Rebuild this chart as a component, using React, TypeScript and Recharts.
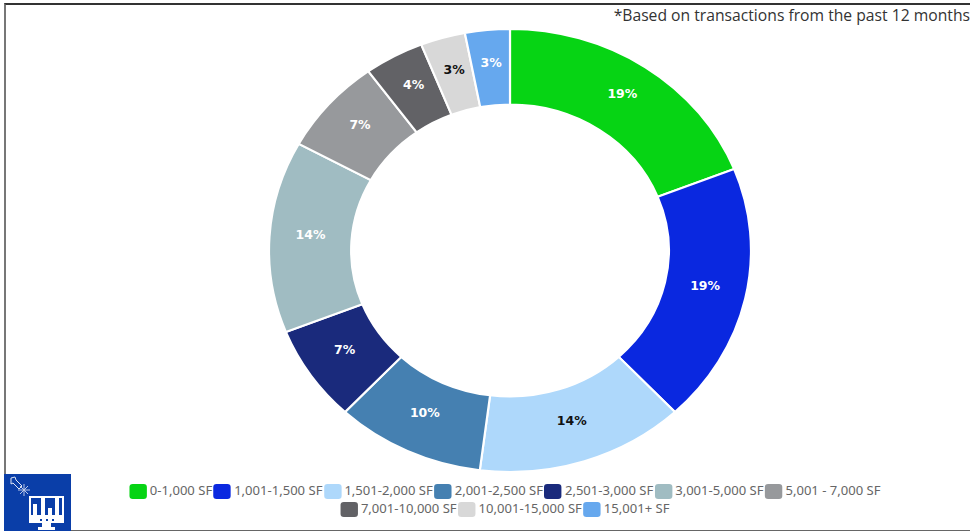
import { PieChart, Pie, Cell, Legend } from 'recharts'

const SIZE_BANDS = [
  '0-1,000 SF', '1,001-1,500 SF', '1,501-2,000 SF', '2,001-2,500 SF', '2,501-3,000 SF',
  '3,001-5,000 SF', '5,001 - 7,000 SF', '7,001-10,000 SF', '10,001-15,000 SF', '15,001+ SF',
]
const SHARES = [19, 19, 14, 10, 7, 14, 7, 4, 3, 3]
const COLORS = [
  '#06d414', '#0a28e0', '#aed8fb', '#4580b1', '#1a2a7c',
  '#a0bcc2', '#97999c', '#626266', '#d8d8d8', '#66a8ee',
]
const LABEL_COLORS = ['#fff', '#fff', '#111', '#fff', '#fff', '#fff', '#fff', '#fff', '#111', '#fff']

const data = SIZE_BANDS.map((name, i) => ({ name, value: SHARES[i] }))

// the whole plot is stretched sideways, so the ring comes out as an ellipse
const STRETCH = 1.088
const RAD = Math.PI / 180

function SliceLabel(props: any) {
  const { cx, cy, midAngle, innerRadius, outerRadius, value, index } = props
  const r = (innerRadius + outerRadius) / 2
  const x = cx + r * Math.cos(-midAngle * RAD)
  const y = cy + r * Math.sin(-midAngle * RAD) - 4
  return (
    <text x={x} y={y} fill={LABEL_COLORS[index]} textAnchor="middle" dominantBaseline="central"
      fontFamily="'DejaVu Sans', sans-serif" fontWeight="bold" fontSize={11.5}>
      {value}%
    </text>
  )
}

function LegendRows({ payload }: any) {
  const items = payload || []
  const rows = [items.slice(0, 7), items.slice(7)]
  return (
    <div style={{ fontFamily: "'Noto Sans', sans-serif", fontSize: 12, lineHeight: '18px', color: '#666' }}>
      {rows.map((row: any[], i: number) => (
        <div key={i} style={{ display: 'flex', justifyContent: 'center', gap: 1.2 }}>
          {row.map((p: any) => (
            <span key={p.value} style={{ display: 'inline-flex', alignItems: 'center', whiteSpace: 'nowrap' }}>
              <span style={{ width: 16, height: 15, borderRadius: 3, background: p.color, marginRight: 3 }} />
              {p.value}
            </span>
          ))}
        </div>
      ))}
    </div>
  )
}

function Badge() {
  return (
    <svg width={67} height={57} viewBox="0 0 67 57" style={{ position: 'absolute', left: 4, top: 474 }}>
      <rect width={67} height={57} fill="#0a3ea8" />
      {/* cursor and spark */}
      <path d="M7 4 L11 3 L12 6 L18 12 L15 15 L9 9 L7 10 Z" fill="none" stroke="#dfe6f5" strokeWidth={1} />
      <path d="M16 12 L24 20 M24 12 L16 20 M20 10 L20 22 M14 16 L26 16" stroke="#b9c6e6" strokeWidth={1} />
      {/* monitor with bars */}
      <path d="M25 22 H60 V46 H25 Z M27 24 V41 H58 V24 Z" fill="#fff" fillRule="evenodd" />
      <path d="M29 30 H33 V41 H29 Z M37 24 H41 V41 H37 Z M44 34 H48 V41 H44 Z M51 24 H55 V41 H51 Z" fill="#fff" />
      <path d="M25 43 H60 V49 H25 Z M38 49 H47 V53 H51 V56 H34 V53 H38 Z" fill="#fff" />
      <path d="M36 45 H38 V47 H36 Z M42 45 H44 V47 H42 Z M48 45 H50 V47 H48 Z" fill="#0a3ea8" />
    </svg>
  )
}

export default function App() {
  return (
    <div style={{ position: 'absolute', left: 0, top: 0, width: 970, height: 531, background: '#fff', overflow: 'hidden' }}>
      <div style={{ position: 'absolute', left: 0, top: 0, transform: `scaleX(${STRETCH})`, transformOrigin: '0 0' }}>
        <PieChart width={970 / STRETCH} height={531} margin={{ top: 0, right: 0, bottom: 0, left: 0 }}>
          <Pie data={data} dataKey="value" nameKey="name" cx={510 / STRETCH} cy={250.5}
            innerRadius={146} outerRadius={221.5} startAngle={90} endAngle={-270}
            stroke="#fff" strokeWidth={2} labelLine={false} label={SliceLabel} isAnimationActive={false}>
            {data.map((d, i) => <Cell key={d.name} fill={COLORS[i]} />)}
          </Pie>
          <Legend content={LegendRows} itemSorter={null} wrapperStyle={{ position: 'absolute', left: 0, width: 928, top: 482 }} />
        </PieChart>
      </div>
      {/* frame and footnote */}
      <div style={{ position: 'absolute', left: 4, top: 3, width: 966, height: 525, borderTop: '2px solid #333', borderLeft: '2px solid #777', borderBottom: '1px solid #666', boxSizing: 'content-box' }} />
      <div style={{ position: 'absolute', right: 0, top: 5, fontFamily: "'Open Sans', sans-serif", fontSize: 15.7, color: '#333', whiteSpace: 'nowrap', lineHeight: '20px' }}>
        *Based on transactions from the past 12 months
      </div>
      <Badge />
    </div>
  )
}
